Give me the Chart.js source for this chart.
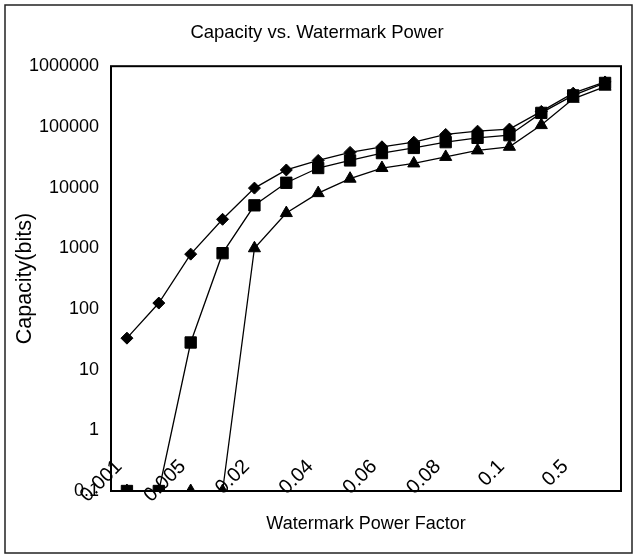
<!DOCTYPE html>
<html>
<head>
<meta charset="utf-8">
<script src="https://cdn.jsdelivr.net/npm/chart.js@4/dist/chart.umd.min.js"></script>
<style>
html,body{margin:0;padding:0;background:#fff;}
canvas{display:block;}
</style>
</head>
<body>
<canvas id="c" width="635" height="554"></canvas>
<script>
// Categories (only every other one is labelled in the source chart)
const categories = ['0.001','', '0.005','', '0.02','', '0.04','', '0.06','', '0.08','', '0.1','', '0.5',''];
// Series values (zero/min-axis values shown at 0.1, the axis floor)
const diamonds  = [33, 125, 800, 3000, 9800, 19500, 28000, 38000, 47000, 56000, 75000, 85000, 92000, 180000, 360000, 550000];
const squares   = [0.1, 0.1, 28, 830, 5100, 12000, 21000, 28000, 37000, 45000, 56000, 66000, 73000, 170000, 330000, 530000];
const triangles = [0.1, 0.1, 0.1, 0.1, 1000, 3800, 8100, 14000, 21000, 25000, 32000, 41000, 47000, 107000, 290000, 460000];
// Y tick labels
const yTicks = [0.1, 1, 10, 100, 1000, 10000, 100000, 1000000];

const FONT = "'Liberation Sans', Arial, sans-serif";
Chart.defaults.font.family = FONT;
Chart.defaults.font.size = 18;
Chart.defaults.color = '#000';

const frame = {
  id: 'frame',
  beforeDatasetsDraw(chart) {
    const {ctx, chartArea: a} = chart;
    ctx.save();
    ctx.strokeStyle = '#000';
    ctx.lineWidth = 2;
    ctx.strokeRect(a.left, a.top, a.right - a.left, a.bottom - a.top);
    ctx.restore();
  },
  afterDraw(chart) {
    const {ctx, width, height} = chart;
    ctx.save();
    ctx.strokeStyle = '#222';
    ctx.lineWidth = 1.5;
    ctx.strokeRect(5, 5, width - 8, height - 6);
    ctx.restore();
  }
};

function ds(label, data, style, radius) {
  return {
    label, data,
    borderColor: '#000', backgroundColor: '#000',
    borderWidth: 1.3,
    pointStyle: style, pointRadius: radius, pointBorderWidth: 1,
    pointBackgroundColor: '#000', pointBorderColor: '#000',
    tension: 0, fill: false
  };
}

new Chart(document.getElementById('c'), {
  type: 'line',
  data: {
    labels: categories,
    datasets: [
      ds('A', diamonds, 'rectRot', 6),
      ds('B', squares, 'rect', 8),
      ds('C', triangles, 'triangle', 7)
    ]
  },
  plugins: [frame],
  options: {
    responsive: false,
    animation: false,
    devicePixelRatio: 1,
    layout: { padding: { top: 12, left: 13, right: 14, bottom: 10 } },
    plugins: {
      legend: { display: false },
      tooltip: { enabled: false },
      title: {
        display: true,
        text: 'Capacity vs. Watermark Power',
        font: { size: 18.5, weight: 'normal' },
        color: '#000',
        padding: { top: 10, bottom: 22 }
      }
    },
    scales: {
      x: {
        type: 'category',
        offset: true,
        grid: { display: false, drawTicks: false, offset: true },
        border: { display: false },
        ticks: {
          autoSkip: false, minRotation: 45, maxRotation: 45,
          mirror: true, labelOffset: 9,
          padding: 19, color: '#000', font: { size: 20 }
        },
        title: {
          display: true, text: 'Watermark Power Factor', color: '#000',
          font: { size: 18 }, padding: { top: 0, bottom: 9 }
        },
        afterFit(s) { s.height = 53; s.paddingLeft = 0; s.paddingRight = 0; }
      },
      y: {
        type: 'logarithmic',
        min: 0.1, max: 1000000,
        grid: { display: false, drawTicks: false },
        border: { display: false },
        afterBuildTicks(s) { s.ticks = yTicks.map(v => ({ value: v })); },
        ticks: {
          padding: 12, color: '#000', font: { size: 18 },
          callback: v => String(v)
        },
        title: {
          display: true, text: 'Capacity(bits)', color: '#000',
          font: { size: 21.5 }, padding: { top: -1, bottom: 0 }
        },
        afterFit(s) { s.width = 98; s.paddingTop = 0; s.paddingBottom = 0; }
      }
    }
  }
});
</script>
</body>
</html>
